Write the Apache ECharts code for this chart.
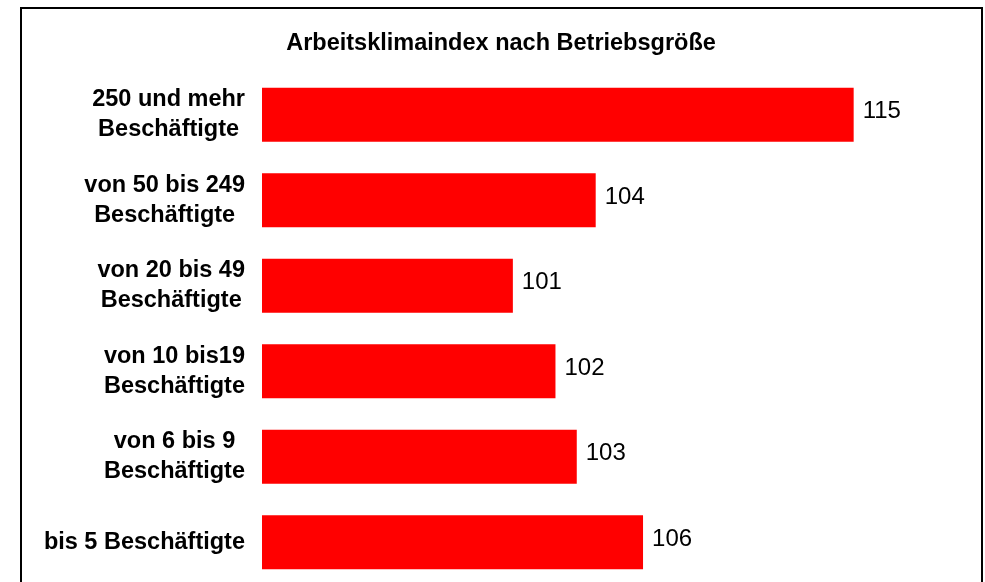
<!DOCTYPE html>
<html>
<head>
<meta charset="UTF-8">
<title>Arbeitsklimaindex</title>
<style type="text/css">
html, body { margin: 0; padding: 0; background: #fff; }
#main { width: 985px; height: 582px; }
</style>
<script type="text/javascript" src="https://cdn.jsdelivr.net/npm/echarts@6/dist/echarts.min.js"></script>
</head>
<body>
<div id="main"></div>
<script type="text/javascript">
// Kategorien von oben nach unten
var categories = [
	'250 und mehr\nBeschäftigte',
	'von 50 bis 249\nBeschäftigte',
	'von 20 bis 49\nBeschäftigte',
	'von 10 bis19\nBeschäftigte',
	'von 6 bis 9\nBeschäftigte',
	'bis 5 Beschäftigte'
];
// Indexwerte (aus den Balkenlängen geschätzt, beschriftet gerundet)
var values = [115, 104.1, 100.6, 102.4, 103.3, 106.1];

var font = 'Liberation Sans, Arial, sans-serif';
var mychar = echarts.init(document.getElementById('main'));

var option = {
	backgroundColor: '#fff',
	animation: false,
	title: {
		text: 'Arbeitsklimaindex nach Betriebsgröße',
		left: 501,
		top: 32,
		padding: 0,
		textAlign: 'center',
		textStyle: {
			fontFamily: font,
			fontSize: 23.5,
			fontWeight: 'bold',
			color: '#000'
		}
	},
	graphic: [{
		type: 'rect',
		shape: { x: 21, y: 8, width: 961, height: 640 },
		style: { fill: 'none', stroke: '#000', lineWidth: 2 },
		silent: true
	}],
	grid: {
		left: 262,
		right: 13,
		top: 72,
		height: 513,
		outerBoundsMode: 'none'
	},
	xAxis: {
		type: 'value',
		min: 90,
		max: 120,
		show: false
	},
	yAxis: {
		type: 'category',
		inverse: true,
		data: categories,
		axisLine: { show: false },
		axisTick: { show: false },
		axisLabel: {
			margin: 17,
			align: 'right',
			formatter: function (v) {
				return v.split('\n').map(function (s) { return '{c|' + s + '}'; }).join('\n');
			},
			rich: {
				c: {
					align: 'center',
					fontFamily: font,
					fontSize: 23.5,
					fontWeight: 'bold',
					color: '#000',
					lineHeight: 30
				}
			}
		}
	},
	series: [{
		type: 'bar',
		data: values,
		barWidth: 54,
		itemStyle: { color: '#ff0000' },
		label: {
			show: true,
			position: 'right',
			distance: 9,
			offset: [0, -3],
			fontFamily: font,
			fontSize: 24,
			color: '#000',
			formatter: function (p) { return Math.round(p.value); }
		}
	}]
};
mychar.setOption(option);
</script>
</body>
</html>
